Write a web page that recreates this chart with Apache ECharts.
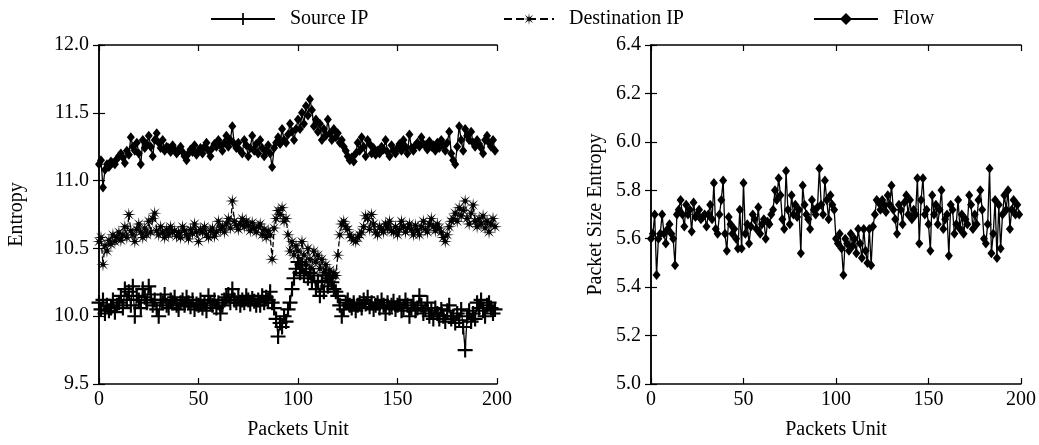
<!DOCTYPE html>
<html><head><meta charset="utf-8">
<script src="https://cdn.jsdelivr.net/npm/echarts@6/dist/echarts.min.js"></script>
<style>html,body{margin:0;padding:0;background:#fff}#c{width:1039px;height:445px}</style>
</head><body><div id="c"></div>
<script>
// ---- DATA ----
const seriesNames = ['Source IP', 'Destination IP', 'Flow'];
const xTicksLeft = [0, 50, 100, 150, 200];
const sourceIP = [
10.10,10.05,10.12,10.02,10.08,10.04,10.06,10.12,10.03,10.08,
10.10,10.15,10.06,10.20,10.12,10.18,10.08,10.22,10.00,10.15,
10.12,10.06,10.20,10.14,10.10,10.22,10.16,10.08,10.12,10.05,
10.00,10.12,10.10,10.16,10.08,10.06,10.12,10.10,10.14,10.08,
10.05,10.10,10.12,10.08,10.14,10.10,10.07,10.12,10.05,10.09,
10.08,10.12,10.06,10.10,10.04,10.15,10.10,10.08,10.12,10.06,
10.10,10.02,10.08,10.12,10.14,10.16,10.10,10.20,10.12,10.10,
10.14,10.08,10.12,10.10,10.15,10.12,10.09,10.13,10.11,10.08,
10.12,10.08,10.15,10.10,10.14,10.12,10.18,10.10,10.06,9.98,
9.85,9.95,9.92,10.00,9.96,10.05,10.10,10.20,10.28,10.35,
10.40,10.32,10.38,10.30,10.35,10.28,10.32,10.25,10.30,10.20,
10.26,10.15,10.25,10.18,10.30,10.22,10.28,10.25,10.20,10.18,
10.15,10.08,10.00,10.05,10.10,10.12,10.08,10.06,10.10,10.04,
10.08,10.10,10.06,10.12,10.09,10.14,10.07,10.10,10.05,10.08,
10.10,10.06,10.12,10.08,10.02,10.10,10.06,10.08,10.11,10.05,
10.08,10.10,10.04,10.06,10.12,10.08,10.00,10.06,10.10,10.04,
10.06,10.15,10.08,10.02,10.05,10.10,10.00,10.04,9.98,10.06,
10.02,9.98,10.05,10.00,9.96,10.04,10.08,9.98,10.00,9.95,
10.02,9.97,10.05,9.92,9.75,10.00,10.04,9.96,10.02,9.98,
10.10,10.06,10.12,10.04,10.00,10.08,10.10,10.06,10.02,10.05];
const destinationIP = [
10.55,10.58,10.38,10.52,10.48,10.56,10.53,10.60,10.55,10.58,
10.62,10.56,10.60,10.66,10.58,10.75,10.63,10.60,10.55,10.64,
10.68,10.62,10.58,10.65,10.60,10.70,10.62,10.72,10.76,10.63,
10.60,10.66,10.62,10.58,10.64,10.60,10.66,10.62,10.63,10.59,
10.62,10.58,10.66,10.63,10.60,10.57,10.64,10.61,10.68,10.62,
10.55,10.64,10.62,10.66,10.60,10.58,10.63,10.65,10.59,10.62,
10.70,10.64,10.66,10.62,10.68,10.72,10.65,10.85,10.70,10.67,
10.64,10.68,10.72,10.66,10.70,10.67,10.63,10.69,10.65,10.62,
10.66,10.68,10.60,10.64,10.58,10.63,10.60,10.42,10.65,10.72,
10.78,10.75,10.80,10.70,10.72,10.60,10.48,10.55,10.45,10.52,
10.48,10.40,10.55,10.45,10.38,10.50,10.42,10.35,10.48,10.40,
10.45,10.35,10.42,10.32,10.38,10.30,10.34,10.28,10.32,10.30,
10.45,10.60,10.68,10.70,10.66,10.64,10.60,10.58,10.56,10.55,
10.58,10.60,10.62,10.66,10.74,10.72,10.64,10.75,10.68,10.62,
10.60,10.66,10.64,10.62,10.68,10.65,10.70,10.63,10.62,10.66,
10.60,10.64,10.70,10.66,10.62,10.65,10.68,10.64,10.60,10.67,
10.63,10.60,10.66,10.70,10.64,10.62,10.68,10.72,10.66,10.63,
10.68,10.65,10.62,10.58,10.55,10.60,10.66,10.70,10.72,10.76,
10.70,10.80,10.74,10.78,10.85,10.72,10.68,10.76,10.82,10.70,
10.66,10.72,10.68,10.74,10.65,10.70,10.62,10.68,10.72,10.66];
const flow = [
11.12,11.15,10.95,11.08,11.12,11.10,11.14,11.13,11.12,11.16,
11.18,11.20,11.17,11.13,11.22,11.19,11.32,11.25,11.22,11.28,
11.20,11.12,11.30,11.24,11.27,11.33,11.25,11.18,11.30,11.35,
11.28,11.24,11.30,11.22,11.25,11.24,11.21,11.26,11.23,11.20,
11.22,11.25,11.21,11.18,11.15,11.20,11.23,11.21,11.26,11.19,
11.22,11.24,11.20,11.25,11.28,11.22,11.18,11.24,11.27,11.25,
11.30,11.26,11.22,11.28,11.33,11.25,11.30,11.40,11.27,11.24,
11.28,11.22,11.20,11.30,11.26,11.18,11.24,11.33,11.22,11.27,
11.20,11.30,11.24,11.18,11.22,11.26,11.20,11.10,11.24,11.28,
11.32,11.27,11.38,11.30,11.28,11.34,11.42,11.36,11.30,11.38,
11.45,11.38,11.50,11.42,11.55,11.48,11.60,11.52,11.40,11.45,
11.36,11.42,11.30,11.38,11.33,11.45,11.35,11.30,11.38,11.32,
11.35,11.28,11.30,11.25,11.22,11.18,11.15,11.17,11.14,11.20,
11.28,11.22,11.32,11.25,11.18,11.30,11.27,11.20,11.24,11.19,
11.22,11.20,11.25,11.23,11.30,11.21,11.18,11.26,11.22,11.20,
11.24,11.27,11.22,11.30,11.25,11.20,11.34,11.24,11.22,11.26,
11.28,11.25,11.32,11.27,11.26,11.23,11.29,11.25,11.26,11.22,
11.28,11.24,11.30,11.26,11.22,11.28,11.36,11.20,11.15,11.12,
11.25,11.40,11.30,11.22,11.38,11.33,11.30,11.36,11.28,11.25,
11.30,11.27,11.24,11.20,11.30,11.33,11.28,11.25,11.30,11.22];
const packetSize = [
5.60,5.62,5.70,5.45,5.60,5.62,5.70,5.62,5.58,5.64,
5.66,5.62,5.60,5.49,5.70,5.72,5.76,5.70,5.65,5.74,
5.70,5.72,5.63,5.75,5.69,5.70,5.72,5.68,5.69,5.70,
5.65,5.70,5.74,5.68,5.83,5.64,5.62,5.70,5.76,5.84,
5.62,5.55,5.69,5.66,5.62,5.64,5.60,5.56,5.72,5.56,
5.83,5.62,5.66,5.58,5.65,5.70,5.68,5.64,5.73,5.62,
5.66,5.68,5.60,5.67,5.66,5.70,5.72,5.80,5.76,5.85,
5.78,5.68,5.64,5.88,5.72,5.66,5.78,5.70,5.74,5.69,
5.72,5.54,5.82,5.74,5.70,5.68,5.64,5.76,5.72,5.70,
5.73,5.89,5.74,5.70,5.84,5.76,5.68,5.78,5.74,5.72,
5.60,5.58,5.62,5.56,5.45,5.60,5.58,5.55,5.62,5.57,
5.60,5.54,5.64,5.58,5.52,5.64,5.55,5.50,5.64,5.49,
5.65,5.70,5.76,5.75,5.72,5.76,5.74,5.71,5.78,5.74,
5.82,5.72,5.68,5.62,5.74,5.72,5.66,5.75,5.78,5.70,
5.76,5.68,5.72,5.70,5.85,5.58,5.76,5.85,5.70,5.72,
5.66,5.55,5.78,5.70,5.74,5.66,5.72,5.80,5.64,5.68,
5.70,5.53,5.74,5.72,5.62,5.66,5.76,5.64,5.70,5.62,
5.68,5.66,5.78,5.74,5.64,5.70,5.66,5.76,5.80,5.72,
5.60,5.58,5.66,5.89,5.54,5.62,5.76,5.52,5.74,5.56,
5.70,5.78,5.72,5.80,5.64,5.72,5.76,5.70,5.74,5.70];

// ---- STYLE / BUILD ----
const F = 'Liberation Serif';
const BLACK = '#000';
const pairs = arr => arr.map((v, i) => [i, v]);
const plusPath = 'path://M6,0 H8 V6 H14 V8 H8 V14 H6 V8 H0 V6 H6 Z';
function starPath() {
  const pts = [];
  for (let k = 0; k < 16; k++) {
    const a = Math.PI * k / 8;
    const r = (k % 2 === 0) ? 10 : 2.6;
    pts.push((10 + r * Math.sin(a)).toFixed(2) + ',' + (10 - r * Math.cos(a)).toFixed(2));
  }
  return 'path://M' + pts.join(' L') + ' Z';
}
const axLine = {show: true, lineStyle: {color: BLACK, width: 1.5}};
const tick = {show: true, inside: true, length: 6, lineStyle: {color: BLACK, width: 1.2}};
const lab = {fontFamily: F, fontSize: 20, color: BLACK};

function xAxes(gi, name) {
  return [
    {gridIndex: gi, type: 'value', min: 0, max: 200, interval: 50, name: name,
     nameLocation: 'middle', nameGap: 36, nameTextStyle: lab,
     axisLine: axLine, axisTick: tick, axisLabel: Object.assign({margin: 6}, lab), splitLine: {show: false}},
    {gridIndex: gi, type: 'value', position: 'top', min: 0, max: 200, interval: 50,
     axisLine: axLine, axisTick: tick, axisLabel: {show: false}, splitLine: {show: false}}
  ];
}
function yAxes(gi, min, max, interval, name, gap) {
  return [
    {gridIndex: gi, type: 'value', min, max, interval, name: name,
     nameLocation: 'middle', nameGap: gap, nameTextStyle: lab,
     axisLine: axLine, axisTick: tick,
     axisLabel: Object.assign({margin: 10, formatter: v => v.toFixed(1)}, lab), splitLine: {show: false}},
    {gridIndex: gi, type: 'value', position: 'right', min, max, interval,
     axisLine: axLine, axisTick: tick, axisLabel: {show: false}, splitLine: {show: false}}
  ];
}
function legendAt(left, name, w) {
  return {show: true, left: left, top: 4, data: [name], itemWidth: w, itemHeight: 15,
    textStyle: {fontFamily: F, fontSize: 20, color: BLACK, padding: [0, 0, 0, 10]}};
}

const chart = echarts.init(document.getElementById('c'), null, {renderer: 'canvas'});
chart.setOption({
  animation: false,
  backgroundColor: '#fff',
  grid: [
    {left: 99, top: 45, width: 398, height: 342},
    {left: 651, top: 45, width: 370, height: 342}
  ],
  legend: [legendAt(205, seriesNames[0], 64), legendAt(498, seriesNames[1], 50), legendAt(808, seriesNames[2], 64)],
  xAxis: [].concat(xAxes(0, 'Packets Unit'), xAxes(1, 'Packets Unit')),
  yAxis: [].concat(yAxes(0, 9.5, 12.0, 0.5, 'Entropy', 72), yAxes(1, 5.0, 6.4, 0.2, 'Packet Size Entropy', 45)),
  series: [
    {name: seriesNames[0], type: 'line', xAxisIndex: 0, yAxisIndex: 0, data: pairs(sourceIP),
     symbol: plusPath, symbolSize: 15, showAllSymbol: true,
     lineStyle: {color: BLACK, width: 1.3}, itemStyle: {color: BLACK, borderWidth: 0}},
    {name: seriesNames[1], type: 'line', xAxisIndex: 0, yAxisIndex: 0, data: pairs(destinationIP),
     symbol: starPath(), symbolSize: 14, showAllSymbol: true,
     lineStyle: {color: BLACK, width: 1.3, type: 'dashed'}, itemStyle: {color: BLACK, borderWidth: 0}},
    {name: seriesNames[2], type: 'line', xAxisIndex: 0, yAxisIndex: 0, data: pairs(flow),
     symbol: 'diamond', symbolSize: [8, 10], showAllSymbol: true,
     lineStyle: {color: BLACK, width: 1.3}, itemStyle: {color: BLACK, borderWidth: 0}},
    {name: 'Packet Size', type: 'line', xAxisIndex: 2, yAxisIndex: 2, data: pairs(packetSize),
     symbol: 'diamond', symbolSize: [8, 10], showAllSymbol: true,
     lineStyle: {color: BLACK, width: 1.3}, itemStyle: {color: BLACK, borderWidth: 0}}
  ]
});
</script></body></html>
